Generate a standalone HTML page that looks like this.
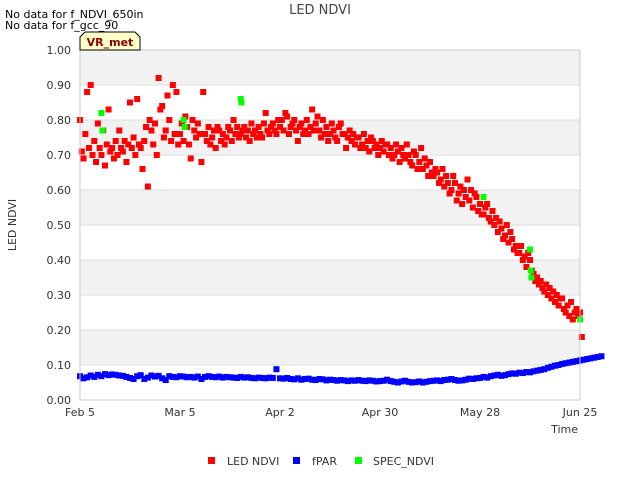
<!DOCTYPE html>
<html><head><meta charset="utf-8"><style>
body{margin:0;background:#fff;font-family:"Liberation Sans","DejaVu Sans",sans-serif}
svg text{font-family:"DejaVu Sans","Liberation Sans",sans-serif}
</style></head><body>
<svg id="chart" width="640" height="480" xmlns="http://www.w3.org/2000/svg">
<rect width="640" height="480" fill="#fff"/>
<g id="bands"></g><g id="grid"></g>
<g id="marks"></g>
<rect x="80" y="50" width="500" height="350" fill="none" stroke="#ccc"/>
<g id="axes" font-size="11" fill="#333"></g>
<text x="320" y="14" text-anchor="middle" font-size="13" fill="#444">LED NDVI</text>
<text x="5" y="18" font-size="11" fill="#000">No data for f_NDVI_650in</text>
<text x="5" y="29" font-size="11" fill="#000">No data for f_gcc_90</text>
<path d="M80,50 L80,37 L85,32 L135,32 L140,37 L140,50 Z" fill="#ffffc8" stroke="#000" stroke-width="1"/>
<text x="110" y="46" text-anchor="middle" font-size="11" font-weight="bold" fill="#8b0000">VR_met</text>
<text x="16" y="225" transform="rotate(-90 16 225)" text-anchor="middle" font-size="11" fill="#333">LED NDVI</text>
<text x="578" y="433" text-anchor="end" font-size="11" fill="#333">Time</text>
<g font-size="11" fill="#333">
<rect x="208" y="457" width="7" height="7" fill="#f00"/>
<text x="227" y="465">LED NDVI</text>
<rect x="293" y="457" width="7" height="7" fill="#00f"/>
<text x="312" y="465">fPAR</text>
<rect x="355" y="457" width="7" height="7" fill="#0f0"/>
<text x="373" y="465">SPEC_NDVI</text>
</g>
</svg>
<script>
const yTicks=[0,0.1,0.2,0.3,0.4,0.5,0.6,0.7,0.8,0.9,1.0];
const xTickDays=[0,28,56,84,112,140];
const xTickLabels=["Feb 5","Mar 5","Apr 2","Apr 30","May 28","Jun 25"];
// LED NDVI: two readings per day, day index from Feb 5
const ledVals=[
[.80,.71],[.69,.76],[.88,.72],[.90,.70],[.74,.68],[.79,.72],[.70,.77],[.67,.73],[.83,.71],[.72,.69],[.74,.70],[.77,.72],[.71,.74],[.68,.73],[.85,.72],
[.75,.70],[.86,.73],[.72,.66],[.74,.78],[.61,.80],[.77,.73],[.79,.70],[.92,.83],[.84,.75],[.77,.87],[.80,.74],[.90,.76],[.88,.73],
[.76,.79],[.74,.81],[.78,.73],[.69,.80],[.77,.75],[.79,.76],[.68,.88],[.76,.74],[.78,.73],[.75,.77],[.72,.78],[.77,.74],[.76,.73],
[.75,.78],[.77,.74],[.80,.76],[.78,.75],[.76,.77],[.78,.75],[.77,.74],[.79,.76],[.77,.75],[.78,.76],[.75,.79],[.82,.77],[.76,.78],[.79,.77],[.76,.80],
[.78,.80],[.77,.82],[.81,.76],[.78,.79],[.80,.77],[.74,.78],[.79,.76],[.77,.80],[.76,.78],[.83,.77],[.79,.81],[.77,.75],[.80,.76],[.78,.74],[.76,.79],
[.77,.75],[.74,.78],[.79,.76],[.76,.72],[.75,.77],[.74,.76],[.73,.75],[.75,.72],[.73,.76],[.72,.74],[.71,.75],[.74,.72],[.73,.70],[.72,.74],
[.71,.73],[.73,.70],[.72,.69],[.70,.73],[.71,.68],[.72,.70],[.69,.73],[.70,.68],[.67,.71],[.70,.66],[.68,.72],[.66,.69],[.67,.64],[.68,.65],
[.64,.66],[.65,.62],[.63,.66],[.61,.64],[.62,.59],[.60,.64],[.62,.57],[.59,.61],[.56,.60],[.58,.63],[.57,.60],[.55,.59],[.58,.54],[.56,.53],
[.53,.55],[.56,.52],[.51,.54],[.50,.52],[.48,.51],[.49,.46],[.47,.50],[.45,.48],[.46,.43],[.44,.42],[.42,.44],[.40,.41],[.38,.42],[.40,.37],
[.36,.34],[.35,.33],[.34,.32],[.31,.33],[.30,.32],[.29,.31],[.28,.30],[.27,.29],[.29,.26],[.25,.27],[.24,.28],[.23,.25],[.26,.24],[.25,.18]];
const fparVals=[
.068,.062,.065,.070,.066,.072,.068,.074,.071,.073,.072,.070,.069,.066,.063,.060,.068,.071,.060,.064,.070,.067,.069,.062,.057,.068,.066,.065,
.068,.067,.065,.066,.064,.067,.060,.066,.068,.066,.065,.067,.064,.066,.065,.064,.063,.066,.064,.065,.063,.062,.064,.063,.062,.064,.063,.088,
.062,.061,.063,.060,.059,.062,.058,.060,.061,.058,.057,.060,.059,.056,.058,.057,.055,.057,.056,.054,.056,.055,.057,.055,.054,.056,.055,.053,
.054,.055,.058,.054,.052,.050,.053,.055,.052,.050,.051,.053,.050,.052,.054,.055,.056,.054,.057,.058,.060,.057,.055,.056,.058,.061,.060,.062,
.063,.066,.064,.068,.070,.072,.069,.071,.074,.076,.075,.078,.077,.080,.079,.082,.084,.086,.088,.092,.095,.098,.100,.103,.105,.107,.109,.111,
.113,.115,.117,.119,.121,.123,.125];
const specDays=[6,6.3,29,29.3,45,45.2,113,126,126.2,126.4,140];
const specVals=[.82,.77,.80,.78,.86,.85,.58,.43,.37,.35,.23];
const X=d=>80+d*500/140, Y=v=>400-v*350;
const NS="http://www.w3.org/2000/svg";
function el(t,a,p){const e=document.createElementNS(NS,t);for(const k in a)e.setAttribute(k,a[k]);document.getElementById(p).appendChild(e);return e;}
for(let i=0;i<10;i++){
 const b=el('rect',{x:80,y:Y(yTicks[i+1]),width:500,height:Y(yTicks[i])-Y(yTicks[i+1]),fill:(i%2==1)?'#f2f2f2':'#fff'},'bands');
 
 
}
yTicks.forEach(v=>{
 const g=el('line',{x1:80,x2:580,y1:Y(v),y2:Y(v),stroke:'#ddd'},'grid');
 
 
 const t=el('text',{x:71,y:Y(v)+4,'text-anchor':'end'},'axes');t.textContent=v.toFixed(2);
 
 
});
xTickDays.forEach((d,i)=>{
 const t=el('text',{x:X(d),y:416,'text-anchor':'middle'},'axes');t.textContent=xTickLabels[i];
 
 
});
function pt(d,v,c,n){const r=el('rect',{x:X(d)-3,y:Y(v)-3,width:6,height:6,fill:c},'marks');
 
 }
fparVals.forEach((v,d)=>pt(d,v,'#00f','fpar-point'));
ledVals.forEach((vs,d)=>vs.forEach((v,j)=>pt(d+j*0.5,v,'#f00','led-ndvi-point')));
specDays.forEach((d,i)=>pt(d,specVals[i],'#0f0','spec-ndvi-point'));
</script>
</body></html>
